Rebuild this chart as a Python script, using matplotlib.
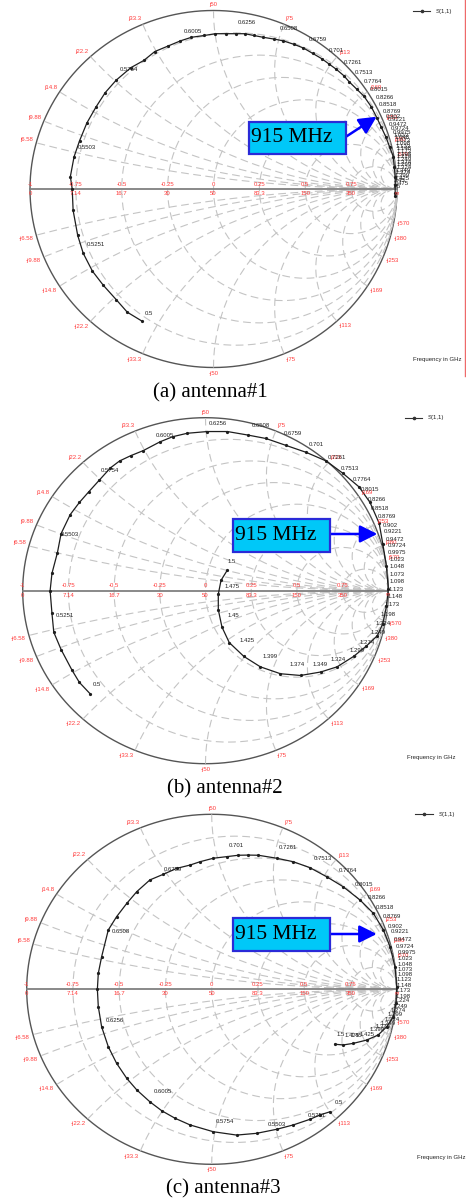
import numpy as np
import matplotlib.pyplot as plt
from matplotlib.lines import Line2D
from matplotlib.patches import Rectangle

plt.rcParams['font.family'] = ['Liberation Sans', 'DejaVu Sans']

W, H = 466, 1203

# чарт: подписи сетки
react_ohm = [6.58, 9.88, 14.8, 22.2, 33.3, 50, 75, 113, 169, 253, 380, 570]
react_txt = ['6.58', '9.88', '14.8', '22.2', '33.3', '50', '75', '113', '169', '253', '380', '570']
gamma_ticks = [-1, -0.75, -0.5, -0.25, 0, 0.25, 0.5, 0.75]
gamma_txt = ['-1', '-0.75', '-0.5', '-0.25', '0', '0.25', '0.5', '0.75']
z_ticks = [-1, -0.75, -0.5, -0.25, 0, 0.25, 0.5, 0.75, 1]
z_txt = ['0', '7.14', '16.7', '30', '50', '83.3', '150', '350', '\u221e']

freq_txt = ['0.5', '0.5251', '0.5503', '0.5754', '0.6005', '0.6256', '0.6508', '0.6759',
            '0.701', '0.7261', '0.7513', '0.7764', '0.8015', '0.8266', '0.8518', '0.8769',
            '0.902', '0.9221', '0.9472', '0.9724', '0.9975', '1.023', '1.048', '1.073',
            '1.098', '1.123', '1.148', '1.173', '1.198', '1.224', '1.249', '1.274',
            '1.299', '1.324', '1.349', '1.374', '1.399', '1.425', '1.45', '1.475', '1.5']

# S(1,1) кривые (Re, Im коэффициента отражения)
trace1 = [(-0.39, -0.74), (-0.47, -0.69), (-0.53, -0.62), (-0.60, -0.54), (-0.66, -0.46),
          (-0.71, -0.36), (-0.74, -0.26), (-0.765, -0.12), (-0.77, 0.0), (-0.78, 0.07),
          (-0.76, 0.18), (-0.73, 0.27), (-0.69, 0.37), (-0.64, 0.46), (-0.59, 0.54),
          (-0.53, 0.61), (-0.45, 0.68), (-0.38, 0.72), (-0.32, 0.77), (-0.25, 0.80),
          (-0.18, 0.83), (-0.12, 0.85), (-0.05, 0.86), (0.01, 0.87), (0.07, 0.87),
          (0.12, 0.87), (0.17, 0.87), (0.22, 0.86), (0.27, 0.85), (0.33, 0.84),
          (0.38, 0.83), (0.44, 0.81), (0.49, 0.79), (0.54, 0.76), (0.59, 0.73),
          (0.63, 0.70), (0.67, 0.67), (0.71, 0.635), (0.74, 0.60), (0.78, 0.56),
          (0.82, 0.52), (0.86, 0.46), (0.89, 0.40), (0.915, 0.345), (0.94, 0.29),
          (0.96, 0.235), (0.98, 0.18), (0.985, 0.125), (0.99, 0.07), (0.99, 0.02),
          (0.99, -0.02), (0.99, -0.04)]
labels1 = [(-0.38, -0.72), (-0.70, -0.33), (-0.75, 0.21), (-0.52, 0.65), (-0.17, 0.86),
           (0.126, 0.91), (0.355, 0.88), (0.513, 0.818), (0.623, 0.753), (0.704, 0.688),
           (0.762, 0.63), (0.813, 0.58), (0.844, 0.533), (0.877, 0.49), (0.895, 0.453),
           (0.913, 0.415), (0.931, 0.387), (0.941, 0.365), (0.949, 0.341), (0.959, 0.318),
           (0.968, 0.294), (0.974, 0.279), (0.978, 0.264), (0.982, 0.249), (0.985, 0.234),
           (0.987, 0.219), (0.989, 0.204), (0.99, 0.189), (0.99, 0.174), (0.99, 0.159),
           (0.99, 0.144), (0.99, 0.129), (0.989, 0.114), (0.988, 0.099), (0.986, 0.084),
           (0.984, 0.069), (0.981, 0.054), (0.978, 0.039), (0.975, 0.024), (0.971, 0.009),
           (0.967, -0.005)]

trace2 = [(-0.632, -0.595), (-0.69, -0.53), (-0.73, -0.46), (-0.79, -0.34), (-0.83, -0.24),
          (-0.84, -0.13), (-0.85, 0.0), (-0.84, 0.10), (-0.81, 0.22), (-0.79, 0.33),
          (-0.74, 0.44), (-0.69, 0.51), (-0.64, 0.57), (-0.58, 0.64), (-0.52, 0.71),
          (-0.47, 0.75), (-0.41, 0.78), (-0.34, 0.81), (-0.25, 0.86), (-0.18, 0.89),
          (-0.10, 0.91), (0.01, 0.92), (0.12, 0.92), (0.23, 0.90), (0.33, 0.88),
          (0.44, 0.84), (0.55, 0.80), (0.66, 0.75), (0.75, 0.68), (0.84, 0.60),
          (0.90, 0.51), (0.95, 0.39), (0.97, 0.27), (0.99, 0.14), (1.0, 0.01),
          (0.99, -0.09), (0.97, -0.19), (0.94, -0.26), (0.88, -0.32), (0.81, -0.38),
          (0.72, -0.44), (0.63, -0.47), (0.52, -0.49), (0.41, -0.48), (0.30, -0.44),
          (0.21, -0.38), (0.13, -0.30), (0.09, -0.21), (0.07, -0.11), (0.07, -0.02),
          (0.085, 0.06), (0.12, 0.12)]
labels2 = [(-0.626, -0.564), (-0.827, -0.163), (-0.80, 0.305), (-0.58, 0.67), (-0.28, 0.877),
           (0.012, 0.945), (0.245, 0.935), (0.42, 0.887), (0.555, 0.824), (0.66, 0.75),
           (0.73, 0.685), (0.796, 0.621), (0.842, 0.56), (0.878, 0.507), (0.897, 0.454),
           (0.933, 0.405), (0.96, 0.357), (0.969, 0.318), (0.979, 0.276), (0.988, 0.238),
           (0.991, 0.197), (0.997, 0.155), (0.997, 0.116), (0.997, 0.074), (0.997, 0.03),
           (0.993, -0.013), (0.988, -0.057), (0.97, -0.105), (0.951, -0.159), (0.924, -0.211),
           (0.897, -0.263), (0.833, -0.32), (0.778, -0.37), (0.678, -0.42), (0.578, -0.448),
           (0.45, -0.448), (0.304, -0.40), (0.18, -0.31), (0.113, -0.163), (0.095, 0.0),
           (0.113, 0.145)]

trace3 = [(0.639, -0.70), (0.585, -0.718), (0.531, -0.743), (0.441, -0.775), (0.351, -0.80),
          (0.243, -0.823), (0.135, -0.833), (0.009, -0.814), (-0.117, -0.775), (-0.198, -0.737),
          (-0.27, -0.694), (-0.334, -0.643), (-0.405, -0.575), (-0.459, -0.509), (-0.514, -0.423),
          (-0.559, -0.328), (-0.595, -0.214), (-0.613, -0.099), (-0.618, 0.0), (-0.613, 0.091),
          (-0.595, 0.186), (-0.559, 0.339), (-0.514, 0.415), (-0.459, 0.491), (-0.405, 0.558),
          (-0.334, 0.625), (-0.262, 0.657), (-0.189, 0.691), (-0.117, 0.710), (-0.063, 0.729),
          (0.009, 0.749), (0.081, 0.758), (0.144, 0.766), (0.198, 0.767), (0.252, 0.766),
          (0.351, 0.749), (0.441, 0.729), (0.531, 0.695), (0.622, 0.643), (0.711, 0.586),
          (0.802, 0.510), (0.874, 0.434), (0.928, 0.339), (0.964, 0.243), (0.991, 0.129),
          (1.0, 0.015), (0.996, -0.08), (0.982, -0.157), (0.946, -0.214), (0.90, -0.261),
          (0.838, -0.29), (0.765, -0.309), (0.711, -0.318), (0.666, -0.314)]
labels3 = [(0.655, -0.668), (0.51, -0.745), (0.294, -0.792), (0.015, -0.779), (-0.322, -0.607),
           (-0.58, -0.203), (-0.549, 0.307), (-0.265, 0.663), (0.087, 0.797), (0.357, 0.789),
           (0.543, 0.726), (0.678, 0.654), (0.766, 0.578), (0.838, 0.503), (0.879, 0.444),
           (0.916, 0.393), (0.943, 0.339), (0.961, 0.307), (0.978, 0.263), (0.988, 0.225),
           (0.997, 0.187), (0.997, 0.151), (0.997, 0.121), (0.997, 0.092), (0.997, 0.063),
           (0.991, 0.031), (0.991, 0.002), (0.988, -0.03), (0.984, -0.061), (0.979, -0.087),
           (0.97, -0.118), (0.961, -0.145), (0.943, -0.169), (0.925, -0.194), (0.906, -0.217),
           (0.879, -0.236), (0.844, -0.251), (0.79, -0.278), (0.745, -0.289), (0.709, -0.289),
           (0.667, -0.283)]

# точка 915 МГц, куда указывает стрелка
mark915 = [(0.889, 0.405), (0.94, 0.328), (0.892, 0.316)]
captions = ['(a) antenna#1', '(b) antenna#2', '(c) antenna#3']

RED = '#ff3b3b'
FS = 4.3


def fx(x):
    return x / W


def fy(y):
    return 1 - y / H


def smith_grid(ax):
    t = np.linspace(0, 2 * np.pi, 721)
    ax.plot(np.cos(t), np.sin(t), color='#555555', lw=1.0, clip_on=False)
    for g in gamma_ticks[1:]:
        r = (1 + g) / (1 - g)
        c, rad = r / (1 + r), 1 / (1 + r)
        ax.plot(c + rad * np.cos(t), rad * np.sin(t), ls=(0, (7, 4)), color='#c4c4c4', lw=0.8)
    ta = np.linspace(-1.5 * np.pi, 0.5 * np.pi, 2001)
    for v in react_ohm:
        x = v / 50.0
        u = 1 + np.cos(ta) / x
        w = 1 / x + np.sin(ta) / x
        m = u ** 2 + w ** 2 > 1.0
        u[m] = np.nan
        w[m] = np.nan
        for s in (1, -1):
            ax.plot(u, s * w, ls=(0, (7, 4)), color='#c4c4c4', lw=0.8)
    ax.plot([-1, 1], [0, 0], color='#808080', lw=1.3, clip_on=False)

    # подписи реактивностей
    for v, txt in zip(react_ohm, react_txt):
        x = v / 50.0
        gr, gi = (x * x - 1) / (x * x + 1), 2 * x / (x * x + 1)
        for s, pre in ((1, 'j'), (-1, '-j')):
            ha = 'right' if gr < -0.3 else ('left' if gr > 0.3 else 'center')
            va = 'bottom' if s > 0 else 'top'
            ax.annotate(pre + txt, (gr, s * gi), xytext=(2.2 * gr, 2.2 * s * gi),
                        textcoords='offset points', ha=ha, va=va, fontsize=FS,
                        color=RED, annotation_clip=False)
    for g, txt in zip(gamma_ticks, gamma_txt):
        ax.annotate(txt, (g, 0), xytext=(0, 3.6), textcoords='offset points',
                    ha='center', va='center', fontsize=FS, color=RED, annotation_clip=False)
    for g, txt in zip(z_ticks, z_txt):
        ax.annotate(txt, (g, 0), xytext=(0, -3.3), textcoords='offset points',
                    ha='center', va='center', fontsize=FS, color=RED, annotation_clip=False)


fig = plt.figure(figsize=(W / 100, H / 100), dpi=100)

panels = [(213.5, 189.0, 183.5, 178.5),
          (205.5, 590.7, 182.8, 173.0),
          (211.7, 989.3, 185.0, 175.0)]
boxes = [(249.3, 121.7, 346.0, 154.0, 136.7),
         (233.3, 519.3, 330.0, 551.7, 534.0),
         (233.3, 917.7, 330.0, 950.7, 934.0)]
legend_pos = [(413, 430, 11), (405, 422, 417.7), (415, 433, 814.3)]
freq_pos = [(413, 360), (407, 758), (417, 1157)]
cap_pos = [(210.5, 392.7), (225, 789.3), (223, 1189.3)]

traces = [trace1, trace2, trace3]
labels = [labels1, labels2, labels3]

for k in range(3):
    cx, cy, rx, ry = panels[k]
    ax = fig.add_axes([fx(cx - rx), fy(cy + ry), 2 * rx / W, 2 * ry / H])
    ax.set_xlim(-1, 1)
    ax.set_ylim(-1, 1)
    ax.axis('off')
    smith_grid(ax)

    tr = np.array(traces[k])
    ax.plot(tr[:, 0], tr[:, 1], color='#1e1e1e', lw=0.9, marker='o', ms=1.3, clip_on=False)
    for (re, im), f in zip(labels[k], freq_txt):
        ax.annotate(f, (re, im), xytext=(1, 1), textcoords='offset points', ha='left',
                    va='bottom', fontsize=FS, color='#222222', annotation_clip=False)

    # легенда и подпись частоты
    x0, x1, ly = legend_pos[k]
    fig.add_artist(Line2D([fx(x0), fx((x0 + x1) / 2), fx(x1)], [fy(ly)] * 3,
                          transform=fig.transFigure, color='#333333', lw=0.8,
                          marker='o', ms=1.6, markevery=[1]))
    fig.text(fx(x1 + 6), fy(ly), 'S(1,1)', ha='left', va='center', fontsize=FS, color='#222222')
    fig.text(fx(freq_pos[k][0]), fy(freq_pos[k][1]), 'Frequency in GHz', ha='left',
             va='center', fontsize=FS, color='#222222')

    # 915 MHz
    bx0, by0, bx1, by1, ay = boxes[k]
    fig.add_artist(Rectangle((fx(bx0), fy(by1)), fx(bx1 - bx0), (by1 - by0) / H,
                             transform=fig.transFigure, facecolor='#00c8f8',
                             edgecolor='#2a2ad8', lw=1.6))
    fig.text(fx(bx0 + 1.5), fy((by0 + by1) / 2), '915 MHz', ha='left', va='center',
             fontsize=15.5, family='Liberation Serif', color='black')
    ax.annotate('', xy=mark915[k], xytext=(fx(bx1), fy(ay)), textcoords='figure fraction',
                arrowprops=dict(arrowstyle='-|>,head_length=0.7,head_width=0.35',
                                color='#0000ff', lw=1.8, mutation_scale=15,
                                shrinkA=0, shrinkB=0), annotation_clip=False)

    fig.text(fx(cap_pos[k][0]), fy(cap_pos[k][1]), captions[k], ha='center', va='center',
             fontsize=15, family='Liberation Serif', color='black')

# красная рамка справа у первого графика
fig.add_artist(Line2D([fx(465.3), fx(465.3)], [fy(0), fy(376)], transform=fig.transFigure,
                      color='#ee6a6a', lw=1.0))

fig.savefig('out.png', dpi=100)
